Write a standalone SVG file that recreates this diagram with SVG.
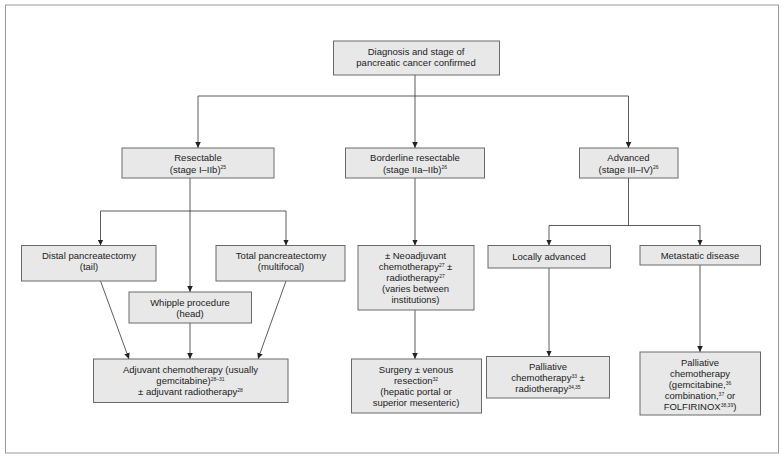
<svg xmlns="http://www.w3.org/2000/svg" width="782" height="459" viewBox="0 0 782 459">
<defs>
<marker id="ah" markerUnits="userSpaceOnUse" markerWidth="6" markerHeight="6" refX="6" refY="3" orient="auto">
<path d="M0,0.2 L6,3 L0,5.8 z" fill="#222"/>
</marker>
<style>
.box{fill:#e8e8e9;stroke:#6a6a6a;stroke-width:1}
.shadow{fill:#9a9a9a}
text{font-family:"Liberation Sans",Arial,sans-serif;font-size:9.5px;fill:#222;text-anchor:middle}
.sup{font-size:5px}
.c line,.c polyline{stroke:#333;stroke-width:0.8;fill:none}
.a{marker-end:url(#ah)}
</style>
</defs>
<rect x="0" y="0" width="782" height="459" fill="#fff"/>
<rect x="5.5" y="5" width="773" height="448" fill="none" stroke="#9a9a9a" stroke-width="1"/>

<g id="connectors" class="c">
<line x1="415" y1="75" x2="415" y2="96"/>
<line x1="198" y1="96" x2="628.5" y2="96"/>
<line class="a" x1="198" y1="96" x2="198" y2="148"/>
<line class="a" x1="415" y1="96" x2="415" y2="148"/>
<line class="a" x1="628.5" y1="96" x2="628.5" y2="148"/>
<line class="a" x1="190" y1="178" x2="190" y2="292"/>
<line x1="100.5" y1="211" x2="286" y2="211"/>
<line class="a" x1="100.5" y1="211" x2="100.5" y2="245.5"/>
<line class="a" x1="286" y1="211" x2="286" y2="245.5"/>
<line class="a" x1="100.5" y1="281" x2="129" y2="359"/>
<line class="a" x1="190" y1="323" x2="190" y2="359"/>
<line class="a" x1="286" y1="281" x2="258" y2="359"/>
<line class="a" x1="415" y1="178" x2="415" y2="245.5"/>
<line class="a" x1="415" y1="310" x2="415" y2="359"/>
<line x1="628.5" y1="178" x2="628.5" y2="225.5"/>
<line x1="549" y1="225.5" x2="700" y2="225.5"/>
<line class="a" x1="549" y1="225.5" x2="549" y2="245.5"/>
<line class="a" x1="700" y1="225.5" x2="700" y2="245.5"/>
<line class="a" x1="549" y1="268" x2="549" y2="356.5"/>
<line class="a" x1="700" y1="265" x2="700" y2="352"/>
</g>

<g id="n-diagnosis">
<rect class="box" x="333.5" y="41" width="166" height="34"/>
<text x="416" y="54.5">Diagnosis and stage of</text>
<text x="416" y="66">pancreatic cancer confirmed</text>
</g>

<g id="n-resectable">
<rect class="box" x="122" y="148" width="152" height="30"/>
<text x="198" y="161">Resectable</text>
<text x="198" y="172.5">(stage I–IIb)<tspan class="sup" dy="-3.5">25</tspan></text>
</g>

<g id="n-borderline">
<rect class="box" x="345.5" y="148" width="139" height="30"/>
<text x="415" y="161">Borderline resectable</text>
<text x="415" y="172.5">(stage IIa–IIb)<tspan class="sup" dy="-3.5">26</tspan></text>
</g>

<g id="n-advanced">
<rect class="box" x="579.5" y="148" width="98.5" height="30"/>
<text x="628.5" y="161">Advanced</text>
<text x="628.5" y="172.5">(stage III–IV)<tspan class="sup" dy="-3.5">26</tspan></text>
</g>

<g id="n-distal">
<rect class="box" x="21.5" y="245.5" width="134.5" height="35.5"/>
<text x="89" y="259">Distal pancreatectomy</text>
<text x="89" y="270">(tail)</text>
</g>

<g id="n-total">
<rect class="box" x="216" y="245.5" width="129" height="35.5"/>
<text x="281" y="259">Total pancreatectomy</text>
<text x="281" y="270">(multifocal)</text>
</g>

<g id="n-whipple">
<rect class="box" x="129" y="292" width="122.5" height="31"/>
<text x="190" y="306">Whipple procedure</text>
<text x="190" y="317">(head)</text>
</g>

<g id="n-adjuvant">
<rect class="box" x="93.5" y="359" width="194.5" height="43.5"/>
<text x="190.5" y="373">Adjuvant chemotherapy (usually</text>
<text x="190.5" y="384">gemcitabine)<tspan class="sup" dy="-3.5">28–31</tspan></text>
<text x="190.5" y="395">± adjuvant radiotherapy<tspan class="sup" dy="-3.5">28</tspan></text>
</g>

<g id="n-neoadjuvant">
<rect class="box" x="358" y="245.5" width="116" height="64.5"/>
<text x="415.5" y="259">± Neoadjuvant</text>
<text x="415.5" y="270">chemotherapy<tspan class="sup" dy="-3.5">27</tspan><tspan dy="3.5"> ±</tspan></text>
<text x="415.5" y="281">radiotherapy<tspan class="sup" dy="-3.5">27</tspan></text>
<text x="415.5" y="292">(varies between</text>
<text x="415.5" y="303">institutions)</text>
</g>

<g id="n-surgery">
<rect class="box" x="351.5" y="359" width="130" height="54"/>
<text x="416" y="373">Surgery ± venous</text>
<text x="416" y="384">resection<tspan class="sup" dy="-3.5">32</tspan></text>
<text x="416" y="395">(hepatic portal or</text>
<text x="416" y="406">superior mesenteric)</text>
</g>

<g id="n-locally">
<rect class="box" x="488" y="245.5" width="122.5" height="22.5"/>
<text x="549" y="259.5">Locally advanced</text>
</g>

<g id="n-metastatic">
<rect class="box" x="640" y="245.5" width="120.5" height="19.5"/>
<text x="700" y="259">Metastatic disease</text>
</g>

<g id="n-palliative1">
<rect class="box" x="486.5" y="356.5" width="123" height="41.5"/>
<text x="548" y="370">Palliative</text>
<text x="548" y="381">chemotherapy<tspan class="sup" dy="-3.5">33</tspan><tspan dy="3.5"> ±</tspan></text>
<text x="548" y="392">radiotherapy<tspan class="sup" dy="-3.5">34,35</tspan></text>
</g>

<g id="n-palliative2">
<rect class="box" x="640" y="352" width="120.5" height="63"/>
<text x="700" y="366">Palliative</text>
<text x="700" y="377">chemotherapy</text>
<text x="700" y="388">(gemcitabine,<tspan class="sup" dy="-3.5">36</tspan></text>
<text x="700" y="399">combination,<tspan class="sup" dy="-3.5">37</tspan><tspan dy="3.5"> or</tspan></text>
<text x="700" y="410">FOLFIRINOX<tspan class="sup" dy="-3.5">38,39</tspan><tspan dy="3.5">)</tspan></text>
</g>
</svg>
